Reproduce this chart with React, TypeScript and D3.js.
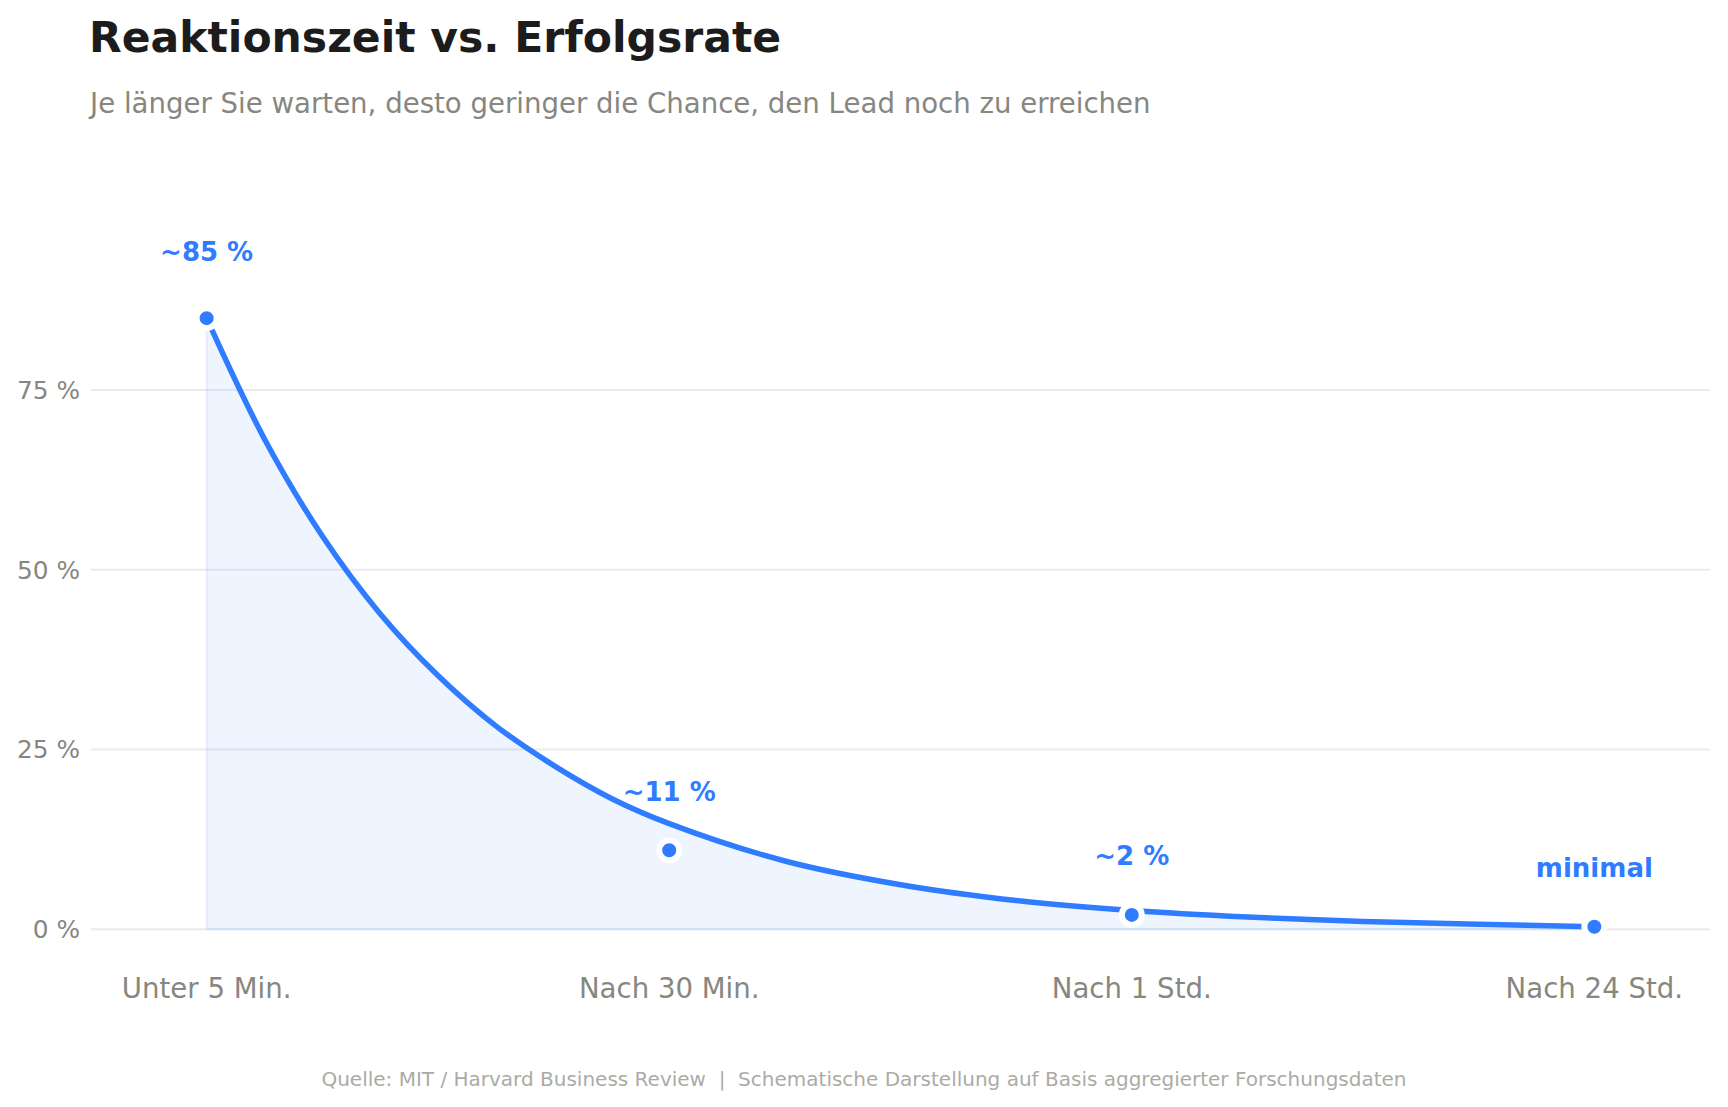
import React from "react";
import * as d3 from "d3";

// Response-time stages and success rates
const stages = ["Unter 5 Min.", "Nach 30 Min.", "Nach 1 Std.", "Nach 24 Std."];
const rates = [85, 11, 2, 0.35];
const rateLabels = ["~85 %", "~11 %", "~2 %", "minimal"];

// Schematic decay curve, sampled along the stage axis (0 = first stage, 3 = last)
const curveSteps = [
  0, 0.125, 0.25, 0.375, 0.5, 0.625, 0.75, 0.875, 1, 1.25, 1.5, 1.75, 2, 2.25, 2.5, 2.75, 3,
];
const curveRates = [
  85, 68.2, 54.7, 43.9, 35.3, 28.3, 22.8, 18.2, 14.7, 9.5, 6.2, 4.0, 2.6, 1.7, 1.1, 0.7, 0.35,
];

const yTicks = [0, 25, 50, 75];

const W = 1728;
const H = 1107;
const BLUE = "#2F7CFF";
const GREY = "#878780";
const FONT = "'DejaVu Sans', sans-serif";

const App: React.FC = () => {
  const x = d3.scalePoint<string>().domain(stages).range([91, 1710]).padding(0.25);
  const y = d3.scaleLinear().domain([0, 100]).range([929.3, 210.3]);
  const xStep = d3
    .scaleLinear()
    .domain([0, stages.length - 1])
    .range([x(stages[0]) as number, x(stages[stages.length - 1]) as number]);

  const pts = curveSteps.map((s, i) => [xStep(s), curveRates[i]] as [number, number]);
  const smooth = d3.curveCatmullRom.alpha(0.5);

  const line = d3
    .line<[number, number]>()
    .x((d) => d[0])
    .y((d) => y(d[1]))
    .curve(smooth);

  const area = d3
    .area<[number, number]>()
    .x((d) => d[0])
    .y0(y(0))
    .y1((d) => y(d[1]))
    .curve(smooth);

  return (
    <div style={{ position: "absolute", left: 0, top: 0 }}>
      <svg width={W} height={H} style={{ display: "block", background: "#fff" }} fontFamily={FONT}>
        {/* header */}
        <text x={89} y={52} fontSize={42.5} fontWeight="bold" fill="#1c1c1c">
          Reaktionszeit vs. Erfolgsrate
        </text>
        <text x={90} y={113} fontSize={27.6} fill={GREY}>
          Je länger Sie warten, desto geringer die Chance, den Lead noch zu erreichen
        </text>

        {/* grid + y axis */}
        {yTicks.map((t) => (
          <g key={t}>
            <line x1={91} x2={1710} y1={y(t)} y2={y(t)} stroke="#ebebee" strokeWidth={2} />
            <text x={80} y={y(t)} dy="0.36em" textAnchor="end" fontSize={24.8} fill={GREY}>
              {t} %
            </text>
          </g>
        ))}

        {/* area + curve */}
        <path
          d={area(pts) || ""}
          fill="rgba(47,124,255,0.08)"
          stroke="rgba(47,124,255,0.08)"
          strokeWidth={2.5}
        />
        <path d={line(pts) || ""} fill="none" stroke={BLUE} strokeWidth={5.5} />

        {/* stage markers */}
        {stages.map((s, i) => (
          <g key={s}>
            <circle cx={x(s)} cy={y(rates[i])} r={10} fill={BLUE} stroke="#fff" strokeWidth={6} />
            <text
              x={x(s)}
              y={y(rates[i]) - (i === 0 ? 57 : 49.5)}
              textAnchor="middle"
              fontSize={26}
              fontWeight="bold"
              fill={BLUE}
            >
              {rateLabels[i]}
            </text>
            <text x={x(s)} y={998} textAnchor="middle" fontSize={27.6} fill={GREY}>
              {s}
            </text>
          </g>
        ))}

        {/* source */}
        <text
          x={W / 2}
          y={1086}
          textAnchor="middle"
          fontSize={20}
          fill="#ababa6"
          style={{ whiteSpace: "pre" }}
        >
          {"Quelle: MIT / Harvard Business Review  |  Schematische Darstellung auf Basis aggregierter Forschungsdaten"}
        </text>
      </svg>
    </div>
  );
};

export default App;
